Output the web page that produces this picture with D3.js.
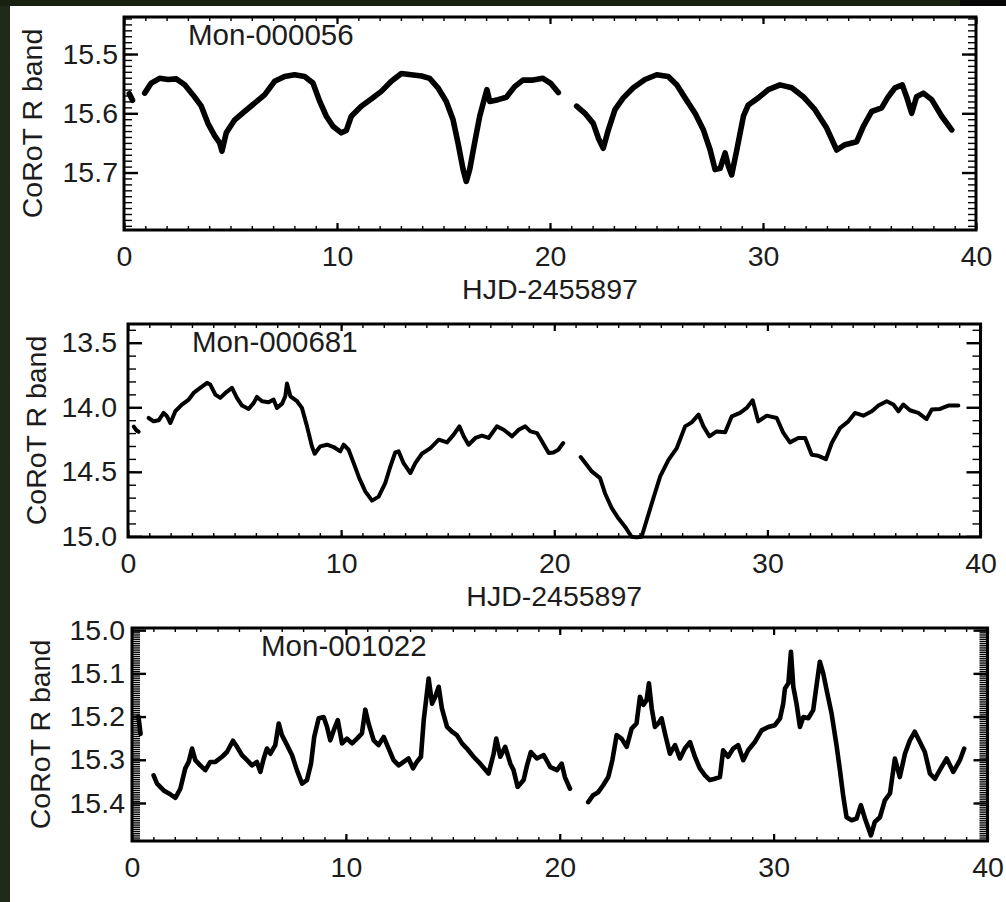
<!DOCTYPE html>
<html>
<head>
<meta charset="utf-8">
<script src="https://cdn.jsdelivr.net/npm/d3@7"></script>
<style>
body { margin: 0; background: #fff; }
svg text { font-family: "Liberation Sans", Arial, Helvetica, sans-serif; fill: #1c1c1c; }
</style>
</head>
<body>
<div id="chart-container"></div>
<script>
// values (day, magnitude)
const xTicks = [0, 10, 20, 30, 40];

const mon056Ticks = [15.5, 15.6, 15.7];
const mon056Range = [15.4375, 15.797];
const mon056Start = [[0.25, 15.567], [0.40, 15.578]];
const mon056A = [[0.97,15.566],[1.28,15.549],[1.67,15.541],[2.07,15.543],[2.46,15.542],[2.85,15.552],[3.24,15.569],[3.63,15.588],[3.94,15.617],[4.26,15.638],[4.49,15.650],[4.60,15.664],[4.80,15.633],[5.20,15.611],[5.66,15.597],[6.13,15.583],[6.60,15.569],[7.07,15.546],[7.54,15.538],[8.01,15.535],[8.48,15.538],[8.87,15.549],[9.19,15.580],[9.50,15.605],[9.81,15.622],[10.20,15.633],[10.44,15.629],[10.67,15.605],[11.14,15.588],[11.61,15.576],[12.08,15.563],[12.55,15.546],[13.02,15.533],[13.49,15.535],[13.97,15.537],[14.35,15.541],[14.74,15.557],[15.13,15.580],[15.45,15.611],[15.68,15.650],[15.92,15.695],[16.07,15.715],[16.23,15.695],[16.46,15.650],[16.70,15.605],[16.93,15.574],[17.04,15.560],[17.17,15.580],[17.56,15.577],[17.95,15.573],[18.34,15.555],[18.73,15.544],[19.20,15.544],[19.67,15.541],[20.05,15.550],[20.39,15.565]];
const mon056B = [[21.25,15.588],[21.64,15.600],[22.03,15.617],[22.27,15.642],[22.50,15.659],[22.74,15.628],[23.05,15.594],[23.44,15.574],[23.91,15.557],[24.46,15.543],[25.01,15.535],[25.55,15.538],[25.95,15.552],[26.34,15.574],[26.81,15.600],[27.20,15.628],[27.52,15.662],[27.75,15.695],[27.99,15.693],[28.22,15.667],[28.38,15.690],[28.53,15.704],[28.77,15.662],[29.08,15.605],[29.31,15.586],[29.78,15.574],[30.25,15.560],[30.80,15.552],[31.35,15.557],[31.89,15.572],[32.44,15.594],[32.99,15.625],[33.46,15.662],[33.85,15.653],[34.40,15.648],[34.71,15.622],[35.10,15.597],[35.57,15.591],[35.88,15.572],[36.20,15.557],[36.54,15.552],[36.74,15.572],[36.98,15.600],[37.21,15.572],[37.53,15.566],[37.92,15.577],[38.39,15.605],[38.86,15.628]];

const mon681Ticks = [13.5, 14.0, 14.5, 15.0];
const mon681Range = [13.355, 15.005];
const mon681Start = [[0.27, 14.15], [0.40, 14.18], [0.50, 14.19]];
const mon681A = [[0.97,14.083],[1.20,14.109],[1.44,14.101],[1.67,14.044],[1.83,14.070],[1.99,14.122],[2.22,14.031],[2.53,13.979],[2.85,13.940],[3.08,13.889],[3.39,13.850],[3.71,13.811],[3.86,13.824],[4.10,13.902],[4.33,13.927],[4.57,13.889],[4.88,13.850],[5.11,13.927],[5.35,13.987],[5.66,14.013],[5.90,13.966],[6.05,13.920],[6.29,13.953],[6.60,13.961],[6.83,13.940],[6.99,14.005],[7.23,13.972],[7.38,13.915],[7.46,13.816],[7.62,13.915],[7.93,13.953],[8.16,14.005],[8.40,14.148],[8.63,14.303],[8.76,14.360],[9.02,14.303],[9.34,14.290],[9.65,14.308],[9.96,14.342],[10.12,14.290],[10.35,14.329],[10.59,14.433],[10.85,14.549],[11.14,14.653],[11.45,14.723],[11.76,14.692],[12.07,14.588],[12.31,14.459],[12.54,14.350],[12.70,14.342],[12.93,14.433],[13.25,14.510],[13.48,14.433],[13.79,14.360],[14.19,14.316],[14.58,14.251],[14.97,14.272],[15.28,14.212],[15.55,14.148],[15.75,14.225],[15.98,14.290],[16.30,14.238],[16.61,14.220],[16.92,14.238],[17.31,14.148],[17.63,14.174],[18.02,14.225],[18.33,14.174],[18.64,14.148],[18.88,14.187],[19.19,14.200],[19.42,14.264],[19.74,14.355],[19.96,14.350],[20.19,14.329],[20.42,14.277]];
const mon681B = [[21.24,14.386],[21.52,14.446],[21.76,14.497],[22.15,14.549],[22.38,14.666],[22.70,14.782],[23.01,14.860],[23.32,14.925],[23.63,15.003],[23.87,15.008],[24.10,15.003],[24.34,14.873],[24.65,14.705],[24.97,14.536],[25.36,14.407],[25.75,14.316],[26.14,14.148],[26.45,14.117],[26.77,14.057],[27.00,14.148],[27.28,14.225],[27.62,14.187],[28.02,14.194],[28.33,14.070],[28.72,14.044],[29.03,14.005],[29.31,13.946],[29.57,14.109],[29.97,14.065],[30.44,14.083],[30.75,14.199],[31.06,14.272],[31.45,14.238],[31.77,14.238],[32.08,14.368],[32.39,14.376],[32.75,14.402],[33.02,14.277],[33.41,14.161],[33.80,14.109],[34.11,14.044],[34.50,14.065],[34.90,14.031],[35.21,13.987],[35.60,13.953],[35.91,13.979],[36.15,14.031],[36.38,13.979],[36.69,14.023],[37.08,14.044],[37.47,14.091],[37.71,14.018],[38.10,14.013],[38.49,13.987],[38.96,13.987]];

const mon1022Ticks = [15.0, 15.1, 15.2, 15.3, 15.4];
const mon1022Range = [14.995, 15.488];
const mon1022Start = [[0.30, 15.20], [0.40, 15.24]];
const mon1022A = [[1.01,15.336],[1.17,15.355],[1.48,15.371],[1.79,15.380],[2.03,15.388],[2.26,15.367],[2.49,15.320],[2.65,15.305],[2.81,15.274],[2.96,15.301],[3.19,15.313],[3.43,15.324],[3.66,15.305],[3.90,15.305],[4.21,15.293],[4.44,15.282],[4.72,15.256],[4.91,15.270],[5.14,15.289],[5.38,15.301],[5.61,15.313],[5.84,15.305],[6.00,15.328],[6.16,15.297],[6.31,15.274],[6.47,15.286],[6.70,15.266],[6.86,15.216],[7.01,15.243],[7.25,15.266],[7.48,15.289],[7.71,15.324],[7.95,15.355],[8.18,15.347],[8.37,15.309],[8.52,15.247],[8.73,15.204],[8.96,15.201],[9.12,15.224],[9.27,15.255],[9.43,15.232],[9.62,15.208],[9.82,15.262],[10.05,15.251],[10.29,15.262],[10.52,15.251],[10.75,15.239],[10.91,15.184],[11.06,15.216],[11.30,15.255],[11.53,15.266],[11.77,15.247],[12.00,15.274],[12.23,15.301],[12.47,15.313],[12.70,15.305],[12.93,15.297],[13.14,15.320],[13.32,15.305],[13.51,15.293],[13.64,15.208],[13.75,15.162],[13.87,15.112],[14.03,15.170],[14.18,15.154],[14.34,15.131],[14.49,15.181],[14.73,15.224],[14.96,15.235],[15.19,15.243],[15.43,15.262],[15.66,15.274],[15.97,15.293],[16.28,15.309],[16.67,15.332],[16.91,15.286],[17.03,15.251],[17.22,15.293],[17.45,15.270],[17.69,15.309],[17.84,15.324],[18.03,15.363],[18.31,15.347],[18.47,15.313],[18.65,15.282],[18.93,15.297],[19.25,15.289],[19.56,15.317],[19.87,15.324],[20.09,15.309],[20.24,15.340],[20.48,15.367]];
const mon1022B = [[21.33,15.398],[21.56,15.382],[21.80,15.375],[22.03,15.359],[22.27,15.340],[22.46,15.301],[22.66,15.243],[22.89,15.251],[23.13,15.270],[23.36,15.228],[23.59,15.216],[23.75,15.154],[23.91,15.173],[24.06,15.162],[24.17,15.123],[24.30,15.181],[24.45,15.224],[24.61,15.216],[24.76,15.204],[24.92,15.239],[25.15,15.286],[25.39,15.266],[25.62,15.297],[25.85,15.274],[26.09,15.259],[26.32,15.293],[26.55,15.320],[26.79,15.336],[27.02,15.347],[27.25,15.344],[27.49,15.340],[27.64,15.278],[27.87,15.293],[28.11,15.274],[28.34,15.266],[28.58,15.301],[28.81,15.278],[29.12,15.259],[29.44,15.232],[29.75,15.224],[30.06,15.220],[30.30,15.204],[30.45,15.170],[30.53,15.135],[30.69,15.123],[30.81,15.050],[30.92,15.131],[31.07,15.170],[31.23,15.224],[31.39,15.201],[31.62,15.204],[31.85,15.185],[32.01,15.127],[32.16,15.073],[32.32,15.100],[32.48,15.139],[32.71,15.193],[32.94,15.266],[33.10,15.324],[33.26,15.386],[33.41,15.433],[33.65,15.440],[33.88,15.436],[34.08,15.405],[34.27,15.436],[34.55,15.475],[34.73,15.444],[34.97,15.433],[35.20,15.394],[35.44,15.378],[35.67,15.297],[35.90,15.340],[36.14,15.286],[36.37,15.255],[36.60,15.235],[36.84,15.259],[37.07,15.282],[37.31,15.332],[37.54,15.344],[37.85,15.317],[38.09,15.297],[38.40,15.328],[38.71,15.301],[38.91,15.274]];

const width = 1006, height = 902;
const fontStack = '"Liberation Sans", Arial, Helvetica, sans-serif';

const svg = d3.select("#chart-container").append("svg")
    .attr("width", width)
    .attr("height", height);

svg.append("rect").attr("width", width).attr("height", height).attr("fill", "#fff");
// dark strips round the scanned figure
svg.append("rect").attr("x", 0).attr("y", 0).attr("width", 10).attr("height", height).attr("fill", "#1f2b18");
svg.append("rect").attr("x", 0).attr("y", 0).attr("width", width).attr("height", 6).attr("fill", "#17210f");
svg.append("rect").attr("x", 960).attr("y", 0).attr("width", 46).attr("height", 6).attr("fill", "#060606");

const panels = [
    {title: "Mon-000056", ticks: mon056Ticks, range: mon056Range, series: [mon056Start, mon056A, mon056B],
     left: 124, right: 976, top: 17, bottom: 230, minorStep: 0.01, labelPad: 6, titleDx: 64, lineWidth: 5.6, xLabel: true},
    {title: "Mon-000681", ticks: mon681Ticks, range: mon681Range, series: [mon681Start, mon681A, mon681B],
     left: 128, right: 980.5, top: 324, bottom: 537, minorStep: 0.1, labelPad: 11, titleDx: 64, lineWidth: 4, xLabel: true},
    {title: "Mon-001022", ticks: mon1022Ticks, range: mon1022Range, series: [mon1022Start, mon1022A, mon1022B],
     left: 132, right: 987.5, top: 628, bottom: 841, minorStep: 0.005, labelPad: 7, titleDx: 129, lineWidth: 4.6, xLabel: false}
];

panels.forEach(drawPanel);

function minorValues(domain, step){
    var lo = Math.min(domain[0], domain[1]), hi = Math.max(domain[0], domain[1]);
    return d3.range(Math.ceil(lo / step - 1e-6), Math.floor(hi / step + 1e-6) + 1).map(i => +(i * step).toFixed(4));
}

function styleAxis(g){
    g.select(".domain").remove();
    g.attr("font-size", 28.5).attr("font-family", fontStack);
}

function drawPanel(p){
    var xScale = d3.scaleLinear().domain([0, 40]).range([p.left, p.right]);
    var yScale = d3.scaleLinear().domain(p.range).range([p.top, p.bottom]);
    var g = svg.append("g");

    var yMinor = minorValues(p.range, p.minorStep);
    var xMinor = d3.range(1, 40);

    // y axes, left with labels, right mirrored
    g.append("g").attr("transform", `translate(${p.left},0)`)
        .call(d3.axisLeft(yScale).tickValues(yMinor).tickSize(-8).tickFormat(""))
        .call(styleAxis).selectAll("line").attr("stroke-width", 1.4);
    g.append("g").attr("transform", `translate(${p.right},0)`)
        .call(d3.axisRight(yScale).tickValues(yMinor).tickSize(-8).tickFormat(""))
        .call(styleAxis).selectAll("line").attr("stroke-width", 1.4);
    g.append("g").attr("transform", `translate(${p.left},0)`)
        .call(d3.axisLeft(yScale).tickValues(p.ticks).tickSize(-14).tickPadding(p.labelPad).tickFormat(d3.format(".1f")))
        .call(styleAxis).selectAll("line").attr("stroke-width", 2.4);
    g.append("g").attr("transform", `translate(${p.right},0)`)
        .call(d3.axisRight(yScale).tickValues(p.ticks).tickSize(-14).tickFormat(""))
        .call(styleAxis).selectAll("line").attr("stroke-width", 2.4);

    // x axes, bottom with labels, top mirrored
    g.append("g").attr("transform", `translate(0,${p.bottom})`)
        .call(d3.axisBottom(xScale).tickValues(xMinor).tickSize(-4).tickFormat(""))
        .call(styleAxis).selectAll("line").attr("stroke-width", 1.4);
    g.append("g").attr("transform", `translate(0,${p.top})`)
        .call(d3.axisTop(xScale).tickValues(xMinor).tickSize(-4).tickFormat(""))
        .call(styleAxis).selectAll("line").attr("stroke-width", 1.4);
    g.append("g").attr("transform", `translate(0,${p.bottom})`)
        .call(d3.axisBottom(xScale).tickValues(xTicks).tickSize(-7).tickPadding(16).tickFormat(d3.format("d")))
        .call(styleAxis).selectAll("line").attr("stroke-width", 2.2);
    g.append("g").attr("transform", `translate(0,${p.top})`)
        .call(d3.axisTop(xScale).tickValues(xTicks).tickSize(-7).tickFormat(""))
        .call(styleAxis).selectAll("line").attr("stroke-width", 2.2);

    // frame
    g.append("rect")
        .attr("x", p.left).attr("y", p.top)
        .attr("width", p.right - p.left).attr("height", p.bottom - p.top)
        .attr("fill", "none").attr("stroke", "#000").attr("stroke-width", 3);

    var line = d3.line()
        .x(d => xScale(d[0]))
        .y(d => yScale(d[1]));

    g.selectAll(".lc")
        .data(p.series)
        .enter()
        .append("path")
        .attr("class", "lc")
        .attr("fill", "none")
        .attr("stroke", "#000")
        .attr("stroke-width", p.lineWidth)
        .attr("stroke-linejoin", "round")
        .attr("stroke-linecap", "round")
        .attr("d", line);

    g.append("text")
        .attr("x", p.left + p.titleDx)
        .attr("y", p.top + 28)
        .attr("font-size", 29.5)
        .text(p.title);

    g.append("text")
        .attr("transform", `translate(${p.left - 82},${(p.top + p.bottom) / 2}) rotate(-90)`)
        .attr("text-anchor", "middle")
        .attr("font-size", 28.5)
        .text("CoRoT R band");

    if (p.xLabel) {
        g.append("text")
            .attr("x", (p.left + p.right) / 2)
            .attr("y", p.bottom + 69)
            .attr("text-anchor", "middle")
            .attr("font-size", 28.5)
            .text("HJD-2455897");
    }
}
</script>
</body>
</html>
